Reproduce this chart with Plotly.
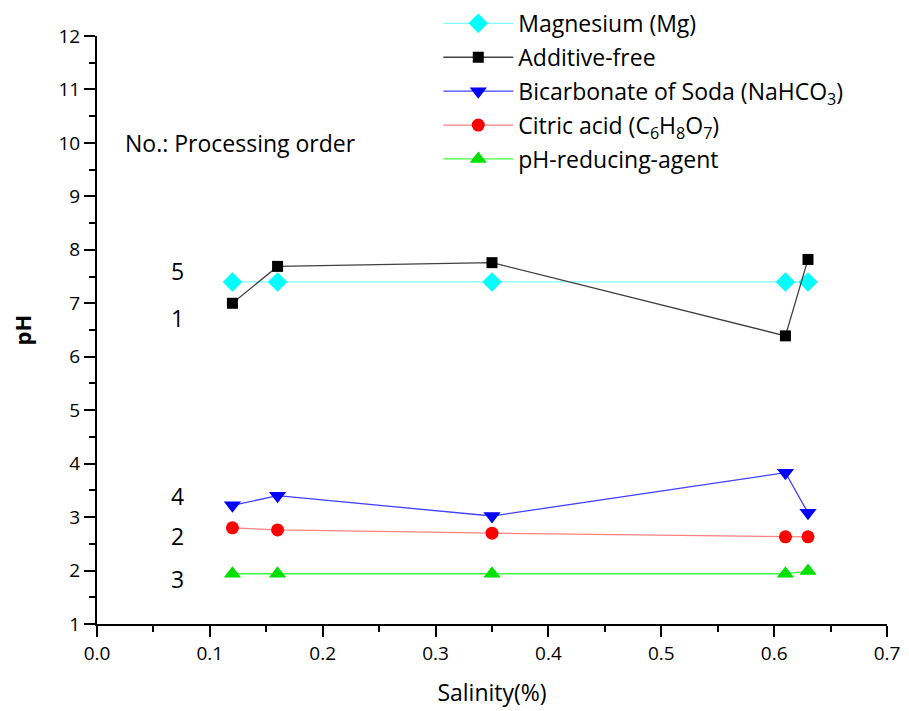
import plotly.graph_objects as go

salinity = [0.12, 0.16, 0.35, 0.61, 0.63]
mg = [7.4, 7.4, 7.4, 7.4, 7.4]
additive_free = [7.0, 7.69, 7.76, 6.39, 7.82]
bicarbonate = [3.22, 3.4, 3.02, 3.83, 3.08]
citric = [2.8, 2.76, 2.7, 2.63, 2.63]
ph_reducing = [1.94, 1.94, 1.94, 1.94, 1.99]

order_labels = ["5", "1", "4", "2", "3"]
order_y = [7.6, 6.72, 3.39, 2.64, 1.85]

FONT = "Open Sans"

fig = go.Figure()
series = [
    ("Magnesium (Mg)", mg, "#7FFFFF", "#00FFFF", "diamond", 15),
    ("Additive-free", additive_free, "#404040", "#000000", "square", 11),
    ("Bicarbonate of Soda (NaHCO<sub>3</sub>)", bicarbonate, "#4040FF", "#0000FF", "triangle-down", 15),
    ("Citric acid (C<sub>6</sub>H<sub>8</sub>O<sub>7</sub>)", citric, "#FF8080", "#FF0000", "circle", 13),
    ("pH-reducing-agent", ph_reducing, "#40FF40", "#00E000", "triangle-up", 15),
]
for i, (name, ys, lc, mc, sym, sz) in enumerate(series):
    fig.add_trace(go.Scatter(
        x=salinity, y=ys, name=name, mode="lines+markers", legendgroup=f"g{i}",
        line=dict(color=lc, width=1.3),
        marker=dict(symbol=sym, size=sz, color=mc, line=dict(width=0)),
    ))

fig.add_annotation(x=0.023, y=10.0, xref="x", yref="y", text="No.: Processing order",
                   showarrow=False, xanchor="left", font=dict(family=FONT, size=23, color="black"))
for lab, yv in zip(order_labels, order_y):
    fig.add_annotation(x=0.071, y=yv, xref="x", yref="y", text=lab, showarrow=False,
                       font=dict(family=FONT, size=23, color="black"))

axis_common = dict(
    showline=True, linecolor="black", linewidth=2, ticks="outside", ticklen=11,
    tickwidth=2, tickcolor="black", showgrid=False, zeroline=False, automargin=False,
    tickfont=dict(family=FONT, size=19, color="black"), mirror=False,
)
fig.update_xaxes(range=[0, 0.7], dtick=0.1, tickformat=".1f",
                 minor=dict(dtick=0.05, ticks="outside", ticklen=6, tickwidth=2, tickcolor="black"),
                 title=dict(text="Salinity(%)", font=dict(family=FONT, size=23, color="black"), standoff=20),
                 **axis_common)
fig.update_yaxes(range=[1, 12], dtick=1,
                 minor=dict(dtick=0.5, ticks="outside", ticklen=6, tickwidth=2, tickcolor="black"),
                 title=dict(text="<b>pH</b>", font=dict(family=FONT, size=22, color="black"), standoff=21),
                 **axis_common)

fig.update_layout(
    width=909, height=711,
    margin=dict(l=97, r=22, t=36, b=87, autoexpand=False),
    plot_bgcolor="white", paper_bgcolor="white",
    legend=dict(x=0.432, y=1.058, xanchor="left", yanchor="top",
                font=dict(family=FONT, size=23, color="black"),
                itemwidth=70, tracegroupgap=1, bgcolor="rgba(0,0,0,0)"),
)
fig.write_html("out.html", config={"displayModeBar": False},
               post_script="document.body.style.margin='0';document.body.style.overflow='hidden';")
